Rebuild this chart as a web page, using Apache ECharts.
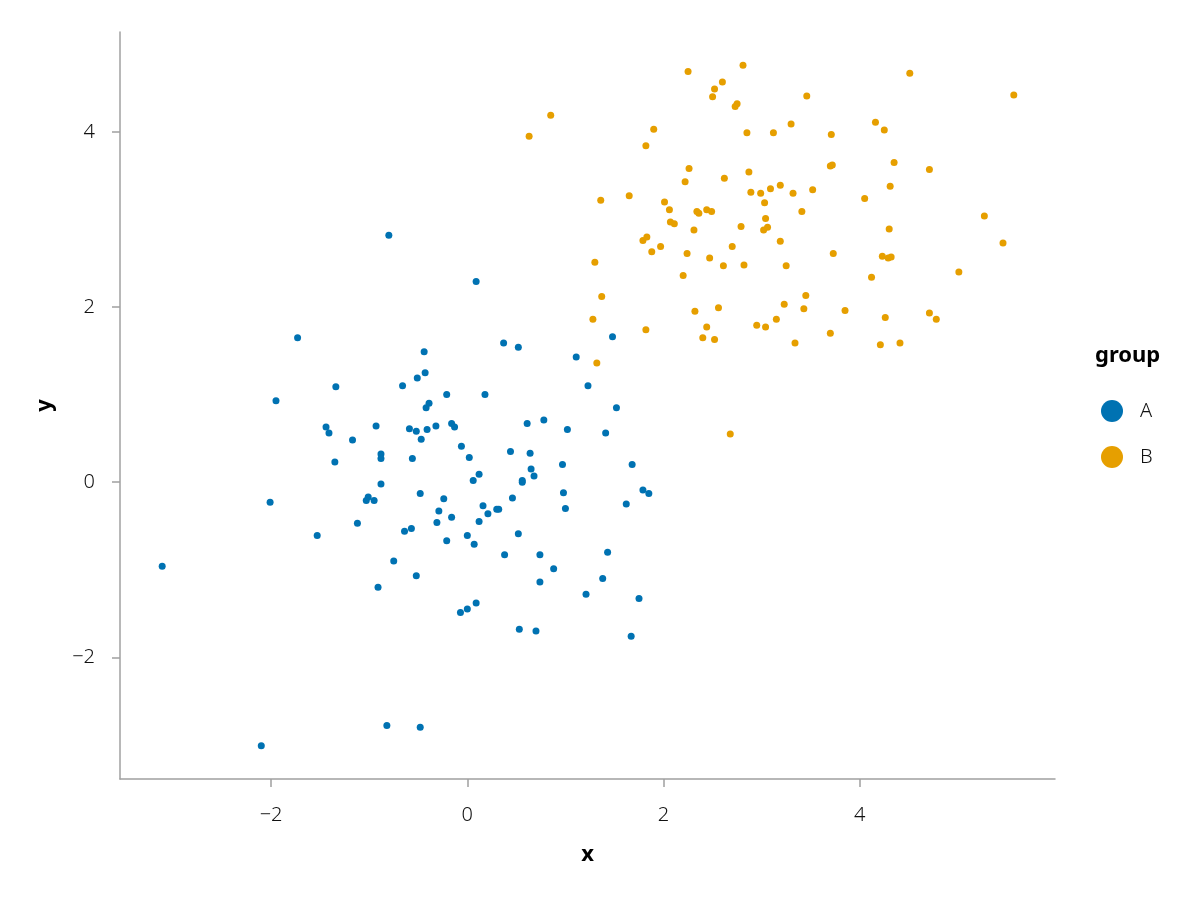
<!DOCTYPE html>
<html>
<head>
<meta charset="utf-8">
<script src="https://cdn.jsdelivr.net/npm/echarts@6/dist/echarts.min.js"></script>
<style>html,body{margin:0;padding:0;background:#fff}#c{width:1200px;height:900px}</style>
</head>
<body>
<div id="c"></div>
<script>
const groups = ['A', 'B'];
const xTicks = [-2, 0, 2, 4];
const yTicks = [-2, 0, 2, 4];

const groupA_x = [-0.80,0.09,-1.73,-1.95,-1.34,-1.44,-1.41,-1.35,-1.17,-0.93,-0.88,-0.88,-0.88,-1.01,-1.03,-0.95,-1.12,-1.53,-2.01,-3.11,
  -0.66,-0.44,-0.43,-0.51,-0.39,-0.42,-0.21,-0.59,-0.52,-0.41,-0.32,-0.47,-0.56,-0.16,-0.13,-0.06,0.02,-0.48,-0.24,-0.29,
  -0.31,-0.16,-0.21,-0.64,-0.57,0.06,0.12,0.18,0.37,0.52,0.44,0.61,0.64,0.65,0.68,0.56,0.56,0.46,0.78,1.02,
  1.11,1.23,1.48,1.52,1.41,0.97,0.98,1.00,1.68,1.79,1.85,1.62,0.16,0.21,0.30,0.32,0.12,0.00,0.07,0.52,
  0.38,0.74,0.88,0.74,1.43,1.38,1.21,1.75,1.67,0.53,0.70,0.09,0.00,-0.07,-0.75,-0.52,-0.91,-2.10,-0.82,-0.48];
const groupA_y = [2.82,2.29,1.65,0.93,1.09,0.63,0.56,0.23,0.48,0.64,0.32,0.27,-0.02,-0.17,-0.21,-0.21,-0.47,-0.61,-0.23,-0.96,
  1.10,1.49,1.25,1.19,0.90,0.85,1.00,0.61,0.58,0.60,0.64,0.49,0.27,0.67,0.63,0.41,0.28,-0.13,-0.19,-0.33,
  -0.46,-0.40,-0.67,-0.56,-0.53,0.02,0.09,1.00,1.59,1.54,0.35,0.67,0.33,0.15,0.07,0.02,0.00,-0.18,0.71,0.60,
  1.43,1.10,1.66,0.85,0.56,0.20,-0.12,-0.30,0.20,-0.09,-0.13,-0.25,-0.27,-0.36,-0.31,-0.31,-0.45,-0.61,-0.71,-0.59,
  -0.83,-0.83,-0.99,-1.14,-0.80,-1.10,-1.28,-1.33,-1.76,-1.68,-1.70,-1.38,-1.45,-1.49,-0.90,-1.07,-1.20,-3.01,-2.78,-2.80];

const groupB_x = [2.25,2.81,2.60,2.52,2.50,2.75,2.73,0.85,0.63,1.90,1.82,2.85,2.26,2.22,2.62,2.87,1.36,1.65,2.01,2.06,
  2.07,2.11,2.34,2.36,2.44,2.49,2.31,2.79,2.89,2.99,3.03,3.04,3.02,3.06,3.09,1.79,1.83,1.97,1.88,2.70,
  4.51,5.57,3.46,3.30,3.12,3.71,4.16,4.25,3.70,3.72,4.35,4.71,3.19,3.32,3.52,3.41,4.05,4.31,5.27,4.30,
  3.19,5.46,1.30,2.24,2.47,2.61,2.82,3.25,2.20,1.37,1.28,1.82,2.32,2.56,2.44,2.40,2.52,2.95,3.04,3.15,
  3.23,3.34,1.32,2.68,3.73,4.23,4.29,4.32,4.12,5.01,3.45,3.43,3.85,4.26,4.71,4.78,3.70,4.21,4.41];
const groupB_y = [4.69,4.76,4.57,4.49,4.40,4.32,4.29,4.19,3.95,4.03,3.84,3.99,3.58,3.43,3.47,3.54,3.22,3.27,3.20,3.11,
  2.97,2.95,3.09,3.07,3.11,3.09,2.88,2.92,3.31,3.30,3.19,3.01,2.88,2.91,3.35,2.76,2.80,2.69,2.63,2.69,
  4.67,4.42,4.41,4.09,3.99,3.97,4.11,4.02,3.61,3.62,3.65,3.57,3.39,3.30,3.34,3.09,3.24,3.38,3.04,2.89,
  2.75,2.73,2.51,2.61,2.56,2.47,2.48,2.47,2.36,2.12,1.86,1.74,1.95,1.99,1.77,1.65,1.63,1.79,1.77,1.86,
  2.03,1.59,1.36,0.55,2.61,2.58,2.56,2.57,2.34,2.40,2.13,1.98,1.96,1.88,1.93,1.86,1.70,1.57,1.59];

const colors = ['#0072B2', '#E69F00'];
const FONT = '"Noto Sans", sans-serif';
const fmt = v => String(v).replace('-', '\u2212');

const pairs = (xs, ys) => xs.map((x, i) => [x, ys[i]]);

const axisCommon = {
  type: 'value',
  splitLine: { show: false },
  axisLine: { show: true, onZero: false, lineStyle: { color: '#a0a0a0', width: 1.5 } },
  axisTick: { show: true, length: 8, lineStyle: { color: '#a0a0a0', width: 1.5 } },
  nameLocation: 'middle',
  nameTextStyle: { fontFamily: FONT, fontSize: 22, fontWeight: 'bold', color: '#000' }
};

const chart = echarts.init(document.getElementById('c'), null, { renderer: 'canvas' });
chart.setOption({
  animation: false,
  backgroundColor: '#fff',
  color: colors,
  title: {
    text: 'group', left: 1090, top: 340,
    textStyle: { fontFamily: FONT, fontSize: 22, fontWeight: 'bold', color: '#000' }
  },
  legend: {
    orient: 'vertical', left: 1096, top: 395, itemGap: 24,
    itemWidth: 22, itemHeight: 22, icon: 'circle',
    data: groups,
    textStyle: { fontFamily: FONT, fontSize: 20, fontWeight: 300, color: '#111', padding: [0, 0, 0, 12] }
  },
  grid: { left: 120, right: 145, top: 32, bottom: 121, containLabel: false },
  xAxis: Object.assign({}, axisCommon, {
    name: 'x', nameGap: 65, min: -3.54, max: 5.99,
    axisTick: Object.assign({}, axisCommon.axisTick, { customValues: xTicks }),
    axisLabel: { customValues: xTicks, formatter: fmt, margin: 26, fontFamily: FONT, fontSize: 20, fontWeight: 300, color: '#111' }
  }),
  yAxis: Object.assign({}, axisCommon, {
    name: 'y', nameGap: 64, min: -3.39, max: 5.14,
    axisTick: Object.assign({}, axisCommon.axisTick, { customValues: yTicks }),
    axisLabel: { customValues: yTicks, formatter: fmt, margin: 25, fontFamily: FONT, fontSize: 20, fontWeight: 300, color: '#111' }
  }),
  series: [
    { name: groups[0], type: 'scatter', symbolSize: 7, data: pairs(groupA_x, groupA_y), itemStyle: { color: colors[0], opacity: 1 } },
    { name: groups[1], type: 'scatter', symbolSize: 7, data: pairs(groupB_x, groupB_y), itemStyle: { color: colors[1], opacity: 1 } }
  ]
});
</script>
</body>
</html>
